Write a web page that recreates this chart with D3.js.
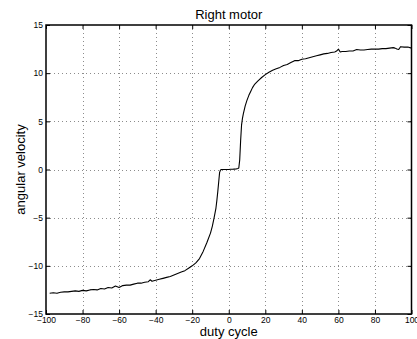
<!DOCTYPE html>
<html>
<head>
<meta charset="utf-8">
<script src="https://cdn.jsdelivr.net/npm/d3@7"></script>
<style>
  html, body { margin: 0; padding: 0; background: #fff; }
  svg { display: block; font-family: "Liberation Sans", Arial, Helvetica, sans-serif; }
</style>
</head>
<body>
<svg id="chart" width="417" height="339"></svg>
<script>
// Measured duty cycle (%) and resulting angular velocity of the right motor
const duty = [-98,-96,-94,-92,-90,-88,-86,-84,-82,-80,-78,-76,-74,-72,-70,-68,-66,-64,-62,-60,
  -58,-56,-54,-52,-50,-48,-46,-44,-43,-42,-40,-38,-36,-34,-32,-30,-28,-26,-24,-22,-20,-18,-16,-14,
  -12,-10,-9,-8,-7,-6.5,-6,-5.5,-5,-4.5,-4,-3,-2,-1,0,1,2,3,4,5,5.5,6,6.5,7,7.5,8,9,10,11,12,13,14,
  16,18,20,22,24,26,28,30,32,34,36,38,40,42,44,46,48,50,52,54,56,58,59,60,61,62,64,66,68,70,72,74,
  76,78,80,82,84,86,88,90,91,92,93,94,96,98,100];
const omega = [-12.85,-12.8,-12.85,-12.75,-12.7,-12.7,-12.65,-12.6,-12.65,-12.55,-12.6,-12.5,-12.45,-12.5,-12.35,-12.4,-12.25,-12.3,-12.1,-12.25,
  -12.05,-12.0,-12.0,-11.9,-11.8,-11.8,-11.7,-11.65,-11.45,-11.6,-11.5,-11.4,-11.3,-11.2,-11.1,-10.95,-10.8,-10.65,-10.5,-10.25,-10.0,-9.7,-9.25,-8.5,
  -7.6,-6.6,-5.9,-5.0,-4.0,-3.2,-2.3,-1.3,-0.3,-0.05,0,0,0,0,0,0.02,0.03,0.04,0.05,0.1,0.15,1.0,3.0,4.6,5.3,5.8,6.6,7.2,7.7,8.1,8.5,8.8,
  9.2,9.55,9.85,10.1,10.3,10.45,10.6,10.8,10.9,11.1,11.3,11.3,11.45,11.5,11.6,11.7,11.8,11.9,12.0,12.05,12.15,12.2,12.3,12.5,12.2,12.25,12.25,12.3,12.3,12.45,12.4,12.4,
  12.45,12.5,12.5,12.5,12.55,12.55,12.6,12.65,12.6,12.5,12.45,12.75,12.7,12.72,12.6];

const xTicks = [-100,-80,-60,-40,-20,0,20,40,60,80,100];
const yTicks = [-15,-10,-5,0,5,10,15];

const titleText = "Right motor";
const xLabel = "duty cycle";
const yLabel = "angular velocity";

const plotLeft = 46, plotRight = 411.5, plotTop = 25, plotBottom = 314;
const svg = d3.select("#chart");

const x = d3.scaleLinear().domain([-100, 100]).range([plotLeft, plotRight]);
const y = d3.scaleLinear().domain([-15, 15]).range([plotBottom, plotTop]);

const fmt = v => (v < 0 ? "\u2212" + Math.abs(v) : String(v));

// dotted grid
const grid = svg.append("g").attr("stroke", "#8c8c8c").attr("stroke-width", 1)
  .attr("stroke-dasharray", "1,3");
grid.selectAll("line.v").data(xTicks.slice(1, -1)).join("line")
  .attr("x1", d => Math.round(x(d)) + 0.5).attr("x2", d => Math.round(x(d)) + 0.5)
  .attr("y1", plotTop).attr("y2", plotBottom);
grid.selectAll("line.h").data(yTicks.slice(1, -1)).join("line")
  .attr("y1", d => Math.round(y(d)) + 0.5).attr("y2", d => Math.round(y(d)) + 0.5)
  .attr("x1", plotLeft).attr("x2", plotRight);

// axes: inward ticks on all four sides
const tickLen = 4;
const axB = svg.append("g").attr("transform", `translate(0,${plotBottom})`)
  .call(d3.axisBottom(x).tickValues(xTicks).tickSizeInner(-tickLen).tickSizeOuter(0).tickPadding(3).tickFormat(fmt));
const axT = svg.append("g").attr("transform", `translate(0,${plotTop})`)
  .call(d3.axisTop(x).tickValues(xTicks).tickSizeInner(-tickLen).tickSizeOuter(0).tickFormat(""));
const axL = svg.append("g").attr("transform", `translate(${plotLeft},0)`)
  .call(d3.axisLeft(y).tickValues(yTicks).tickSizeInner(-tickLen).tickSizeOuter(0).tickPadding(3).tickFormat(fmt));
const axR = svg.append("g").attr("transform", `translate(${plotRight},0)`)
  .call(d3.axisRight(y).tickValues(yTicks).tickSizeInner(-tickLen).tickSizeOuter(0).tickFormat(""));

[axB, axT, axL, axR].forEach(g => {
  g.select(".domain").remove();
  g.selectAll(".tick line").attr("stroke", "#000");
  g.selectAll("text").attr("font-size", 8.5).attr("fill", "#000")
    .attr("font-family", "'Liberation Sans', Arial, sans-serif");
});

// data curve
svg.append("path")
  .datum(duty.map((d, i) => [d, omega[i]]))
  .attr("fill", "none").attr("stroke", "#000").attr("stroke-width", 1.1)
  .attr("stroke-linejoin", "round")
  .attr("d", d3.line().x(d => x(d[0])).y(d => y(d[1])));

// box
svg.append("rect").attr("x", plotLeft).attr("y", plotTop)
  .attr("width", plotRight - plotLeft).attr("height", plotBottom - plotTop)
  .attr("fill", "none").attr("stroke", "#000").attr("stroke-width", 1.5);

// title and axis labels
svg.append("text").attr("x", (plotLeft + plotRight) / 2).attr("y", 19)
  .attr("text-anchor", "middle").attr("font-size", 13).text(titleText);
svg.append("text").attr("x", (plotLeft + plotRight) / 2).attr("y", 336)
  .attr("text-anchor", "middle").attr("font-size", 13).text(xLabel);
svg.append("text").attr("transform", `translate(25,${(plotTop + plotBottom) / 2}) rotate(-90)`)
  .attr("text-anchor", "middle").attr("font-size", 13).text(yLabel);
</script>
</body>
</html>
